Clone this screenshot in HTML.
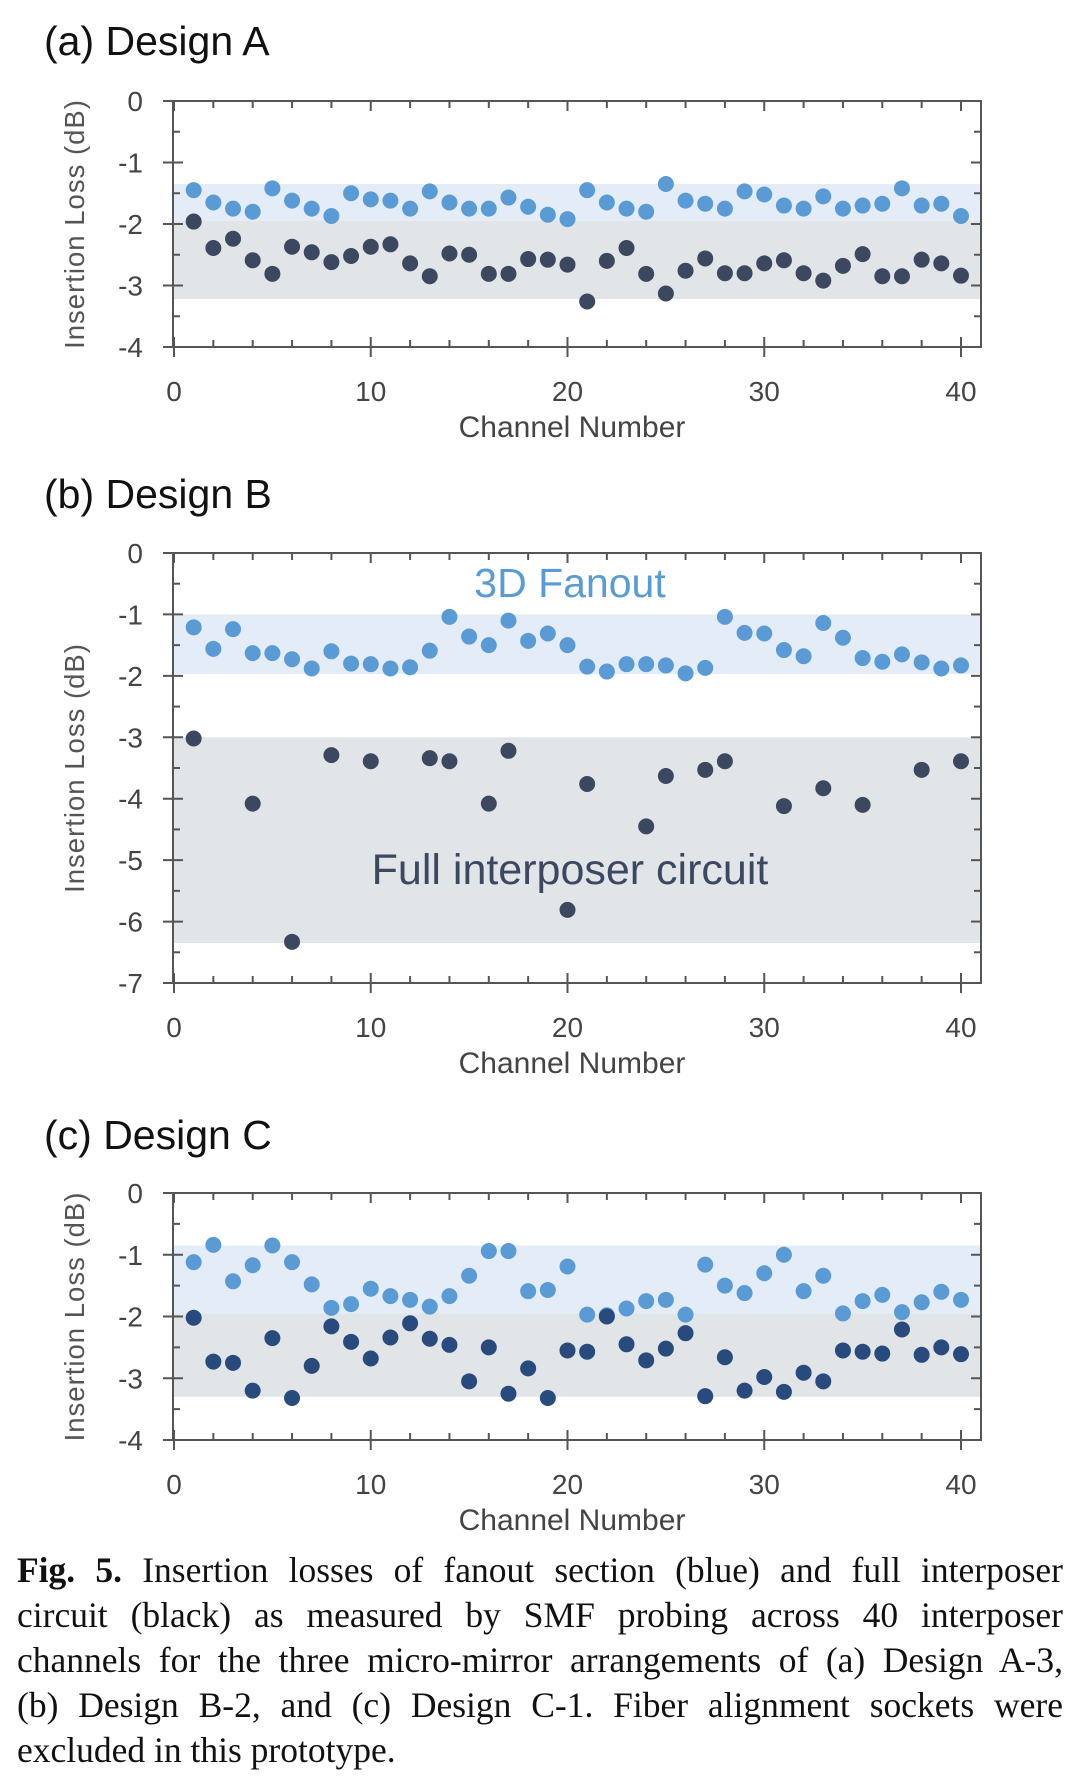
<!DOCTYPE html>
<html><head><meta charset="utf-8">
<style>
html,body{margin:0;padding:0;background:#fff;}
body{width:1080px;height:1792px;position:relative;overflow:hidden;font-family:"Liberation Sans",sans-serif;}
.title{position:absolute;left:44px;font-size:41px;color:#111;font-family:"Liberation Sans",sans-serif;}
#caption{position:absolute;left:17px;width:1046px;top:1548px;font-family:"Liberation Serif",serif;font-size:35.5px;line-height:45px;color:#111;}
#caption div{text-align:justify;text-align-last:justify;white-space:nowrap;}
#caption div.last{text-align-last:left;}
svg{position:absolute;left:0;}
</style></head>
<body>
<div class="title" style="top:18px">(a) Design A</div>
<div class="title" style="top:471px">(b) Design B</div>
<div class="title" style="top:1112px">(c) Design C</div>
<svg id="chartA" width="1080" height="450" style="top:0"></svg>
<svg id="chartB" width="1080" height="600" style="top:500px"></svg>
<svg id="chartC" width="1080" height="450" style="top:1100px"></svg>
<div id="caption">
<div><b>Fig. 5.</b> Insertion losses of fanout section (blue) and full interposer</div>
<div>circuit (black) as measured by SMF probing across 40 interposer</div>
<div>channels for the three micro-mirror arrangements of (a) Design A-3,</div>
<div>(b) Design B-2, and (c) Design C-1. Fiber alignment sockets were</div>
<div class="last">excluded in this prototype.</div>
</div>
<script>
const channels = Array.from({length:40},(_,i)=>i+1);
const xTicks = [0,10,20,30,40];
const aFanout = [-1.45,-1.65,-1.75,-1.8,-1.42,-1.62,-1.75,-1.87,-1.5,-1.6,-1.62,-1.75,-1.47,-1.65,-1.75,-1.75,-1.57,-1.72,-1.85,-1.92,-1.45,-1.65,-1.75,-1.8,-1.35,-1.62,-1.67,-1.75,-1.47,-1.52,-1.7,-1.75,-1.55,-1.75,-1.7,-1.67,-1.42,-1.7,-1.67,-1.87];
const aFull = [-1.96,-2.39,-2.24,-2.59,-2.81,-2.37,-2.46,-2.62,-2.52,-2.37,-2.33,-2.64,-2.85,-2.48,-2.5,-2.81,-2.81,-2.57,-2.58,-2.66,-3.26,-2.6,-2.39,-2.81,-3.13,-2.76,-2.56,-2.8,-2.8,-2.64,-2.59,-2.8,-2.92,-2.68,-2.49,-2.85,-2.85,-2.58,-2.64,-2.84];
const aBands = [-1.35,-1.95,-3.22];
const aYTicks = [0,-1,-2,-3,-4];
const bFanout = [-1.21,-1.56,-1.24,-1.63,-1.63,-1.73,-1.88,-1.6,-1.8,-1.81,-1.88,-1.86,-1.59,-1.04,-1.36,-1.5,-1.1,-1.43,-1.31,-1.5,-1.85,-1.93,-1.81,-1.81,-1.83,-1.96,-1.87,-1.04,-1.3,-1.31,-1.58,-1.68,-1.14,-1.38,-1.71,-1.77,-1.65,-1.78,-1.88,-1.83];
const bFull = [-3.02,null,null,-4.08,null,-6.33,null,-3.29,null,-3.39,null,null,-3.34,-3.39,null,-4.08,-3.22,null,null,-5.81,-3.76,null,null,-4.45,-3.63,null,-3.53,-3.39,null,null,-4.12,null,-3.83,null,-4.1,null,null,-3.53,null,-3.39];
const bBands = [-1.0,-1.97,-3.0,-6.35];
const bYTicks = [0,-1,-2,-3,-4,-5,-6,-7];
const cFanout = [-1.12,-0.84,-1.43,-1.17,-0.85,-1.12,-1.48,-1.86,-1.8,-1.55,-1.67,-1.73,-1.84,-1.67,-1.34,-0.94,-0.94,-1.59,-1.57,-1.19,-1.97,-1.98,-1.87,-1.75,-1.73,-1.97,-1.16,-1.5,-1.62,-1.3,-1.0,-1.59,-1.34,-1.95,-1.75,-1.65,-1.93,-1.77,-1.6,-1.73];
const cFull = [-2.02,-2.73,-2.75,-3.2,-2.35,-3.32,-2.8,-2.16,-2.41,-2.68,-2.34,-2.11,-2.36,-2.46,-3.05,-2.5,-3.25,-2.84,-3.32,-2.55,-2.57,-2.0,-2.45,-2.71,-2.52,-2.27,-3.29,-2.66,-3.2,-2.98,-3.22,-2.91,-3.05,-2.55,-2.57,-2.6,-2.21,-2.62,-2.5,-2.61];
const cBands = [-0.85,-1.95,-3.3];
const cYTicks = [0,-1,-2,-3,-4];

const NS='http://www.w3.org/2000/svg';
function mk(svg,tag,attrs,text){const e=document.createElementNS(NS,tag);for(const k in attrs)e.setAttribute(k,attrs[k]);if(text!==undefined)e.textContent=text;svg.appendChild(e);return e;}

function draw(id,o){
  const svg=document.getElementById(id);
  const L=173,R=981,x0=174,x40=961;
  const xs=v=>x0+(x40-x0)*v/40;
  const ymin=o.yTicks[o.yTicks.length-1];
  const ys=v=>o.top+(o.bottom-o.top)*(v/ymin);
  const b=o.bands;
  let r=mk(svg,'rect',{x:L+1,y:ys(b[0]),width:R-L-2,height:ys(b[1])-ys(b[0]),fill:'#e4edf7'});
  
  
  const gTop=b.length===4?b[2]:b[1], gBot=b.length===4?b[3]:b[2];
  r=mk(svg,'rect',{x:L+1,y:ys(gTop),width:R-L-2,height:ys(gBot)-ys(gTop),fill:'#e2e5e8'});
  
  
  const fr=mk(svg,'rect',{x:L,y:o.top,width:R-L,height:o.bottom-o.top,fill:'none',stroke:'#555','stroke-width':2});
  
  
  for(let v=0;v<=40;v+=2){
    const X=xs(v), major=v%10===0;
    mk(svg,'line',{x1:X,x2:X,y1:o.bottom-(major?10:7),y2:o.bottom+(major?10:0),stroke:'#555','stroke-width':2});
    mk(svg,'line',{x1:X,x2:X,y1:o.top,y2:o.top+(major?10:7),stroke:'#555','stroke-width':2});
  }
  xTicks.forEach(v=>{
    const t=mk(svg,'text',{x:xs(v),y:o.bottom+54,'text-anchor':'middle','font-size':28,fill:'#444'},String(v));
    
    
  });
  const xt=mk(svg,'text',{x:(L+R)/2-5,y:o.bottom+90,'text-anchor':'middle','font-size':30,fill:'#444'},'Channel Number');
  
  
  for(let v=0;v>=ymin;v-=0.5){
    const Y=ys(v), major=Math.abs(v%1)<1e-9;
    mk(svg,'line',{x1:L-(major?10:0),x2:L+(major?10:7),y1:Y,y2:Y,stroke:'#555','stroke-width':2});
    mk(svg,'line',{x1:R-(major?10:7),x2:R,y1:Y,y2:Y,stroke:'#555','stroke-width':2});
  }
  o.yTicks.forEach(v=>{
    const t=mk(svg,'text',{x:143,y:ys(v)+10,'text-anchor':'end','font-size':28,fill:'#444'},String(v));
    
    
  });
  const cy=(o.top+o.bottom)/2;
  const yt=mk(svg,'text',{x:0,y:0,'text-anchor':'middle','font-size':27.5,fill:'#555','letter-spacing':1,transform:`translate(84,${cy}) rotate(-90)`},'Insertion Loss (dB)');
  
  
  channels.forEach((c,i)=>{
    const f=o.fanout[i];
    if(f!==null){const p=mk(svg,'circle',{cx:xs(c),cy:ys(f),r:8,fill:'#5b9bd5'});
      
      }
    const u=o.full[i];
    if(u!==null){const p=mk(svg,'circle',{cx:xs(c),cy:ys(u),r:8,fill:o.dark});
      
      }
  });
  return {svg,xs,ys};
}
draw('chartA',{top:101,bottom:347,yTicks:aYTicks,bands:aBands,fanout:aFanout,full:aFull,dark:'#3b4860'});
const B=draw('chartB',{top:53,bottom:483,yTicks:bYTicks,bands:bBands,fanout:bFanout,full:bFull,dark:'#3b4860'});
let t=mk(B.svg,'text',{x:570,y:97,'text-anchor':'middle','font-size':41,fill:'#5b9bd5'},'3D Fanout');


t=mk(B.svg,'text',{x:570,y:384,'text-anchor':'middle','font-size':43,fill:'#3b4860'},'Full interposer circuit');


draw('chartC',{top:93,bottom:340,yTicks:cYTicks,bands:cBands,fanout:cFanout,full:cFull,dark:'#284a7c'});
</script>
</body></html>
